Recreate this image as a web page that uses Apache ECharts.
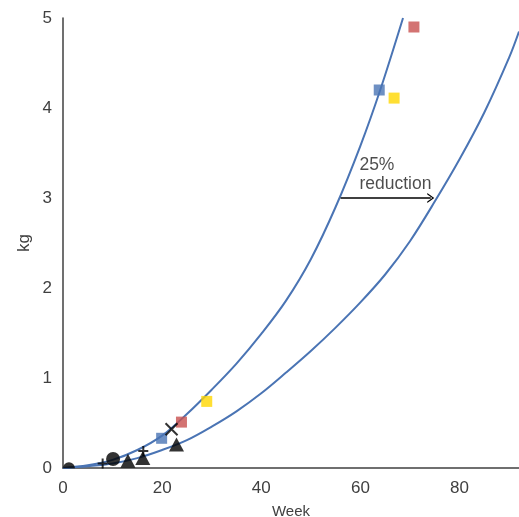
<!DOCTYPE html>
<html>
<head>
<meta charset="utf-8">
<script src="https://cdn.jsdelivr.net/npm/echarts@6/dist/echarts.min.js"></script>
<style>
  html, body { margin: 0; padding: 0; background: #fff; }
  #main { width: 519px; height: 517px; }
</style>
</head>
<body>
<div id="main"></div>
<script>
// curves: [week, kg]
const upperCurve = [[0, 0], [5, 0.03], [10, 0.09], [15, 0.2], [20, 0.36], [25, 0.6],
  [30, 0.87], [35, 1.16], [40, 1.49], [45, 1.86], [50, 2.32], [55, 2.9], [60, 3.58],
  [64, 4.2], [68.6, 5.0]];
const lowerCurve = [[0, 0], [5, 0.02], [10, 0.05], [15, 0.11], [20, 0.2], [25, 0.31],
  [30, 0.46], [35, 0.63], [40, 0.83], [45, 1.06], [50, 1.3], [55, 1.56], [60, 1.84],
  [65, 2.15], [70, 2.52], [75, 2.96], [80, 3.43], [85, 3.95], [90, 4.56], [92, 4.85]];

// observations
const redPts = [[23.9, 0.51], [70.8, 4.9]];
const bluePts = [[19.9, 0.33], [63.8, 4.2]];
const yellowPts = [[29, 0.74], [66.8, 4.11]];
const crossPts = [[21.9, 0.43]];
const plusPts = [[8, 0.05], [16.2, 0.19]];
const circlePts = [[10.1, 0.1]];
const domePts = [[1.2, 0.03]];
const trianglePts = [[13.1, 0.08], [16.1, 0.11], [22.9, 0.26]];

const arrowFrom = [56, 3];
const arrowTo = [74.2, 3];
const notePos = [59.8, 3.26];

const xTicks = { min: 0, max: 92, interval: 20 };
const yTicks = { min: 0, max: 5, interval: 1 };

const chart = echarts.init(document.getElementById("main"));

const curve = (data) => ({
  type: "line",
  data: data,
  smooth: 0.35,
  showSymbol: false,
  silent: true,
  lineStyle: { color: "#4a74b4", width: 2 },
});

const dots = (data, symbol, size, style) => ({
  type: "scatter",
  data: data,
  symbol: symbol,
  symbolSize: size,
  itemStyle: style,
  z: 3,
});

chart.setOption({
  backgroundColor: "#fff",
  animation: false,
  textStyle: { fontFamily: "Liberation Sans, Arial, sans-serif" },
  grid: { left: 63, top: 18, right: 0, bottom: 49, outerBoundsMode: "none" },
  xAxis: {
    type: "value",
    min: xTicks.min,
    max: xTicks.max,
    interval: xTicks.interval,
    name: "Week",
    nameLocation: "middle",
    nameGap: 36,
    nameMoveOverlap: false,
    nameTextStyle: { fontSize: 15, color: "#404040" },
    axisLine: { show: true, lineStyle: { color: "#404040", width: 1.5 } },
    axisTick: { show: false },
    splitLine: { show: false },
    axisLabel: { fontSize: 17, color: "#404040", margin: 12, showMaxLabel: false },
  },
  yAxis: {
    type: "value",
    min: yTicks.min,
    max: yTicks.max,
    interval: yTicks.interval,
    name: "kg",
    nameLocation: "middle",
    nameGap: 30,
    nameMoveOverlap: false,
    nameTextStyle: { fontSize: 17, color: "#404040" },
    axisLine: { show: true, lineStyle: { color: "#404040", width: 1.5 } },
    axisTick: { show: false },
    splitLine: { show: false },
    axisLabel: { fontSize: 17, color: "#404040", margin: 11 },
  },
  series: [
    curve(upperCurve),
    curve(lowerCurve),
    dots(redPts, "rect", 11, { color: "#c8504f" }),
    dots(bluePts, "rect", 11, { color: "#4a74b4" }),
    dots(yellowPts, "rect", 11, { color: "#ffd700" }),
    dots(trianglePts, "triangle", [15, 14], { color: "#000" }),
    dots(circlePts, "circle", 14, { color: "#000" }),
    dots(domePts, "path://M0,10 A10,10 0 0 1 20,10 Z", [12, 6], { color: "#000" }),
    dots(crossPts, "path://M0,0 L10,10 M10,0 L0,10", 12,
      { color: "none", borderColor: "#000", borderWidth: 2 }),
    dots(plusPts, "path://M5,0 L5,10 M0,5 L10,5", 10,
      { color: "none", borderColor: "#000", borderWidth: 2 }),
    {
      type: "scatter",
      data: [notePos],
      symbolSize: 0,
      silent: true,
      label: {
        show: true,
        position: "right",
        distance: 0,
        formatter: "25%\nreduction",
        fontSize: 17.5,
        lineHeight: 19,
        color: "#1f1f1f",
      },
      markLine: {
        silent: true,
        symbol: ["none", "path://M0,10 L5,0 L10,10 L8.6,10 L5,2.8 L1.4,10 Z"],
        symbolSize: [10, 7],
        lineStyle: { color: "#000", width: 1.5, type: "solid" },
        label: { show: false },
        data: [[{ coord: arrowFrom }, { coord: arrowTo }]],
      },
    },
  ],
});

window.addEventListener("resize", () => chart.resize());
</script>
</body>
</html>
